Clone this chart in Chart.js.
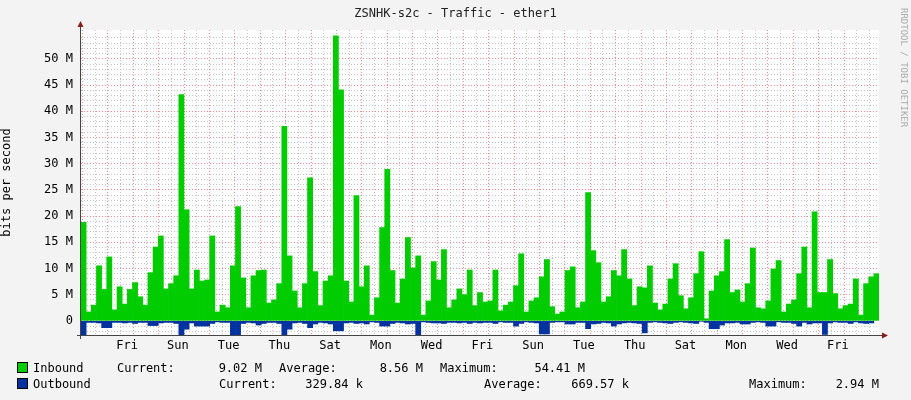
<!DOCTYPE html>
<html><head><meta charset="utf-8">
<script src="https://cdn.jsdelivr.net/npm/chart.js@4/dist/chart.umd.min.js"></script>
<style>
body{margin:0;background:#f3f3f3;width:911px;height:400px;overflow:hidden;position:relative;font-family:"DejaVu Sans Mono",monospace;font-size:12px;color:#000}
canvas{position:absolute;left:0;top:0}
.t{position:absolute;white-space:pre;line-height:14px}
.r{text-align:right}
.sq{position:absolute;width:9px;height:9px;border:1px solid #000}
</style></head><body>
<canvas id="c" width="911" height="400"></canvas>
<div class="t" style="left:0;width:911px;top:6px;text-align:center;font-size:12px;color:#222">ZSNHK-s2c - Traffic - ether1</div>
<div class="t" style="left:909px;top:8px;transform-origin:0 0;transform:rotate(90deg);font-size:9px;line-height:11px;color:#aaa">RRDTOOL / TOBI OETIKER</div>
<div class="sq" style="left:17px;top:362px;background:#00cc00"></div>
<div class="sq" style="left:17px;top:378px;background:#0033a0"></div>
<div class="t" style="left:33px;top:361px">Inbound</div>
<div class="t" style="left:117px;top:361px">Current:</div>
<div class="t r" style="left:180px;width:82px;top:361px">9.02 M</div>
<div class="t" style="left:279px;top:361px">Average:</div>
<div class="t r" style="left:340px;width:83px;top:361px">8.56 M</div>
<div class="t" style="left:440px;top:361px">Maximum:</div>
<div class="t r" style="left:500px;width:85px;top:361px">54.41 M</div>
<div class="t" style="left:33px;top:377px">Outbound</div>
<div class="t" style="left:219px;top:377px">Current:</div>
<div class="t r" style="left:280px;width:83px;top:377px">329.84 k</div>
<div class="t" style="left:484px;top:377px">Average:</div>
<div class="t r" style="left:545px;width:84px;top:377px">669.57 k</div>
<div class="t" style="left:749px;top:377px">Maximum:</div>
<div class="t r" style="left:800px;width:79px;top:377px">2.94 M</div>
<script>
const inbound = [18.8,1.7,3,10.5,6,12.2,2.1,6.5,3.2,6,7.3,4.6,3,9.2,14.1,16.2,6.1,7.1,8.6,43.2,21.2,6.1,9.7,7.6,7.8,16.2,1.7,3,2.5,10.5,21.8,8.2,2.5,8.6,9.6,9.7,3.4,4,7.1,37.1,12.4,5.7,2.5,7.1,27.3,9.4,2.9,7.6,8.6,54.4,44.1,7.6,3.6,
23.9,6.5,10.5,1.1,4.4,17.8,28.9,9.6,3.4,8,15.9,10.1,12.4,1.1,3.8,11.3,7.8,13.6,2.5,4,6.1,5,9.7,2.9,5.4,3.6,3.8,9.7,1.9,3,3.6,6.7,12.8,1.7,3.8,4.4,8.4,11.7,2.7,1.3,1.7,9.6,10.3,2.5,3.6,24.5,13.4,11.1,3.6,4.6,9.6,8.6,
13.6,8,2.9,6.5,6.3,10.5,3.4,2.1,3.2,8,10.9,4.8,2.3,4.4,9,13.2,0.4,5.7,8.6,9.4,15.5,5.4,5.9,3.6,7.1,13.9,2.5,2.3,3.8,9.9,11.5,1.7,3.2,4,9,14.1,2.5,20.8,5.4,5.4,11.7,5.2,2.3,2.9,3.2,8,1.1,7.1,8.4,9];
const outbound = [
-2.7,-0.3,-0.3,-0.4,-1.3,-1.3,-0.3,-0.3,-0.4,-0.3,-0.5,-0.3,-0.3,-0.9,-0.9,-0.4,-0.3,-0.3,-0.5,-2.8,-1.6,-0.4,-1.0,-1.0,-1.0,-0.5,-0.2,-0.3,-0.3,-2.7,-2.7,-0.5,-0.3,-0.4,-0.8,-0.5,-0.3,-0.3,-0.5,-2.7,-1.6,-0.4,-0.3,-0.5,-1.3,-0.6,-0.3,-0.4,-0.6,-1.9,-1.9,-0.4,-0.3,
-0.5,-0.4,-0.6,-0.2,-0.3,-1.0,-1.0,-0.5,-0.3,-0.4,-0.6,-0.5,-2.7,-0.2,-0.3,-0.4,-0.4,-0.5,-0.3,-0.3,-0.4,-0.3,-0.5,-0.3,-0.4,-0.3,-0.3,-0.5,-0.2,-0.3,-0.3,-1.0,-0.5,-0.2,-0.3,-0.4,-2.5,-2.5,-0.3,-0.2,-0.2,-0.6,-0.6,-0.3,-0.3,-1.5,-0.6,-0.5,-0.3,-0.4,-1.0,
-0.6,-0.4,-0.3,-0.4,-0.5,-2.3,-0.3,-0.2,-0.3,-0.4,-0.5,-0.3,-0.2,-0.3,-0.4,-0.5,-0.1,-0.3,-1.5,-1.5,-0.8,-0.4,-0.4,-0.3,-0.6,-0.6,-0.3,-0.2,-0.3,-1.0,-1.0,-0.2,-0.3,-0.3,-0.5,-1.0,-0.3,-0.6,-0.4,-0.4,-2.6,-0.4,-0.2,-0.3,-0.3,-0.5,-0.2,-0.4,-0.5,-0.4];
const xTickLabels = ['Fri','Sun','Tue','Thu','Sat','Mon','Wed','Fri','Sun','Tue','Thu','Sat','Mon','Wed','Fri'];
const yTickLabels = ['0','5 M','10 M','15 M','20 M','25 M','30 M','35 M','40 M','45 M','50 M'];
const labels = inbound.map((_, i) => i);
const font = {family:'DejaVu Sans Mono', size:12};
const RED='rgba(240,120,120,0.85)', GREY='rgba(185,185,185,0.85)';
const arrows = {id:'arrows', afterDraw(ch){
  const c = ch.ctx, a = ch.chartArea;
  c.save(); c.strokeStyle='#444'; c.lineWidth=1;
  c.beginPath(); c.moveTo(a.left-0.5, a.bottom+4); c.lineTo(a.left-0.5, a.top-4);
  c.moveTo(a.left-4, a.bottom+0.5); c.lineTo(a.right+4, a.bottom+0.5); c.stroke();
  c.fillStyle='#8b1a1a';
  c.beginPath(); c.moveTo(a.left-3.5,a.top-3); c.lineTo(a.left+2.5,a.top-3); c.lineTo(a.left-0.5,a.top-9); c.fill();
  c.beginPath(); c.moveTo(a.right+3,a.bottom-2.5); c.lineTo(a.right+3,a.bottom+3.5); c.lineTo(a.right+9,a.bottom+0.5); c.fill();
  c.restore();
}};
const bg = {id:'bg', beforeDraw(ch){const a=ch.chartArea,c=ch.ctx;c.save();c.fillStyle='#fff';c.fillRect(a.left,a.top,a.right-a.left,a.bottom-a.top);c.restore();}};
new Chart(document.getElementById('c'), {
  type:'bar',
  data:{labels, datasets:[
    {label:'Inbound', data:inbound, backgroundColor:'#00cc00', borderWidth:0, barPercentage:1, categoryPercentage:1},
    {label:'Outbound', data:outbound, backgroundColor:'#0033a0', borderWidth:0, barPercentage:1, categoryPercentage:1}
  ]},
  options:{
    responsive:false, animation:false,
    layout:{padding:{left:0,right:32,top:30,bottom:0}},
    plugins:{legend:{display:false}, tooltip:{enabled:false}},
    scales:{
      x:{stacked:true, display:false, offset:true},
      xd:{type:'linear', position:'bottom', min:-1.06, max:29.87, afterFit(s){s.height=65;},
        ticks:{stepSize:0.5, includeBounds:false, autoSkip:false, maxRotation:0, color:'#000', font, padding:4,
          callback(v){const k=v-0.5; if(Math.abs(k-Math.round(k))<1e-6 && Math.round(k)%2===0){return xTickLabels[Math.round(k)/2]||'';} return '';}},
        grid:{drawTicks:false, color(ctx){if(!ctx.tick) return GREY; const v=ctx.tick.value; return Math.abs(v-Math.round(v))<1e-6?RED:GREY;}},
        border:{display:false, dash:[1,2]}},
      y:{stacked:true, min:-2.7, max:55.5, afterFit(s){s.width=81;},
        ticks:{stepSize:1, includeBounds:false, autoSkip:false, color:'#000', font, padding:8,
          callback(v){return (v>=0 && v%5===0)? yTickLabels[v/5] : '';}},
        grid:{drawTicks:false, color(ctx){if(!ctx.tick) return GREY; const v=ctx.tick.value; return v%5===0?RED:GREY;}},
        border:{display:false, dash:[1,2]},
        title:{display:true, text:'bits per second', font, color:'#000', padding:{top:0,bottom:2}}}
    }
  },
  plugins:[bg, arrows]
});
</script>
</body></html>
